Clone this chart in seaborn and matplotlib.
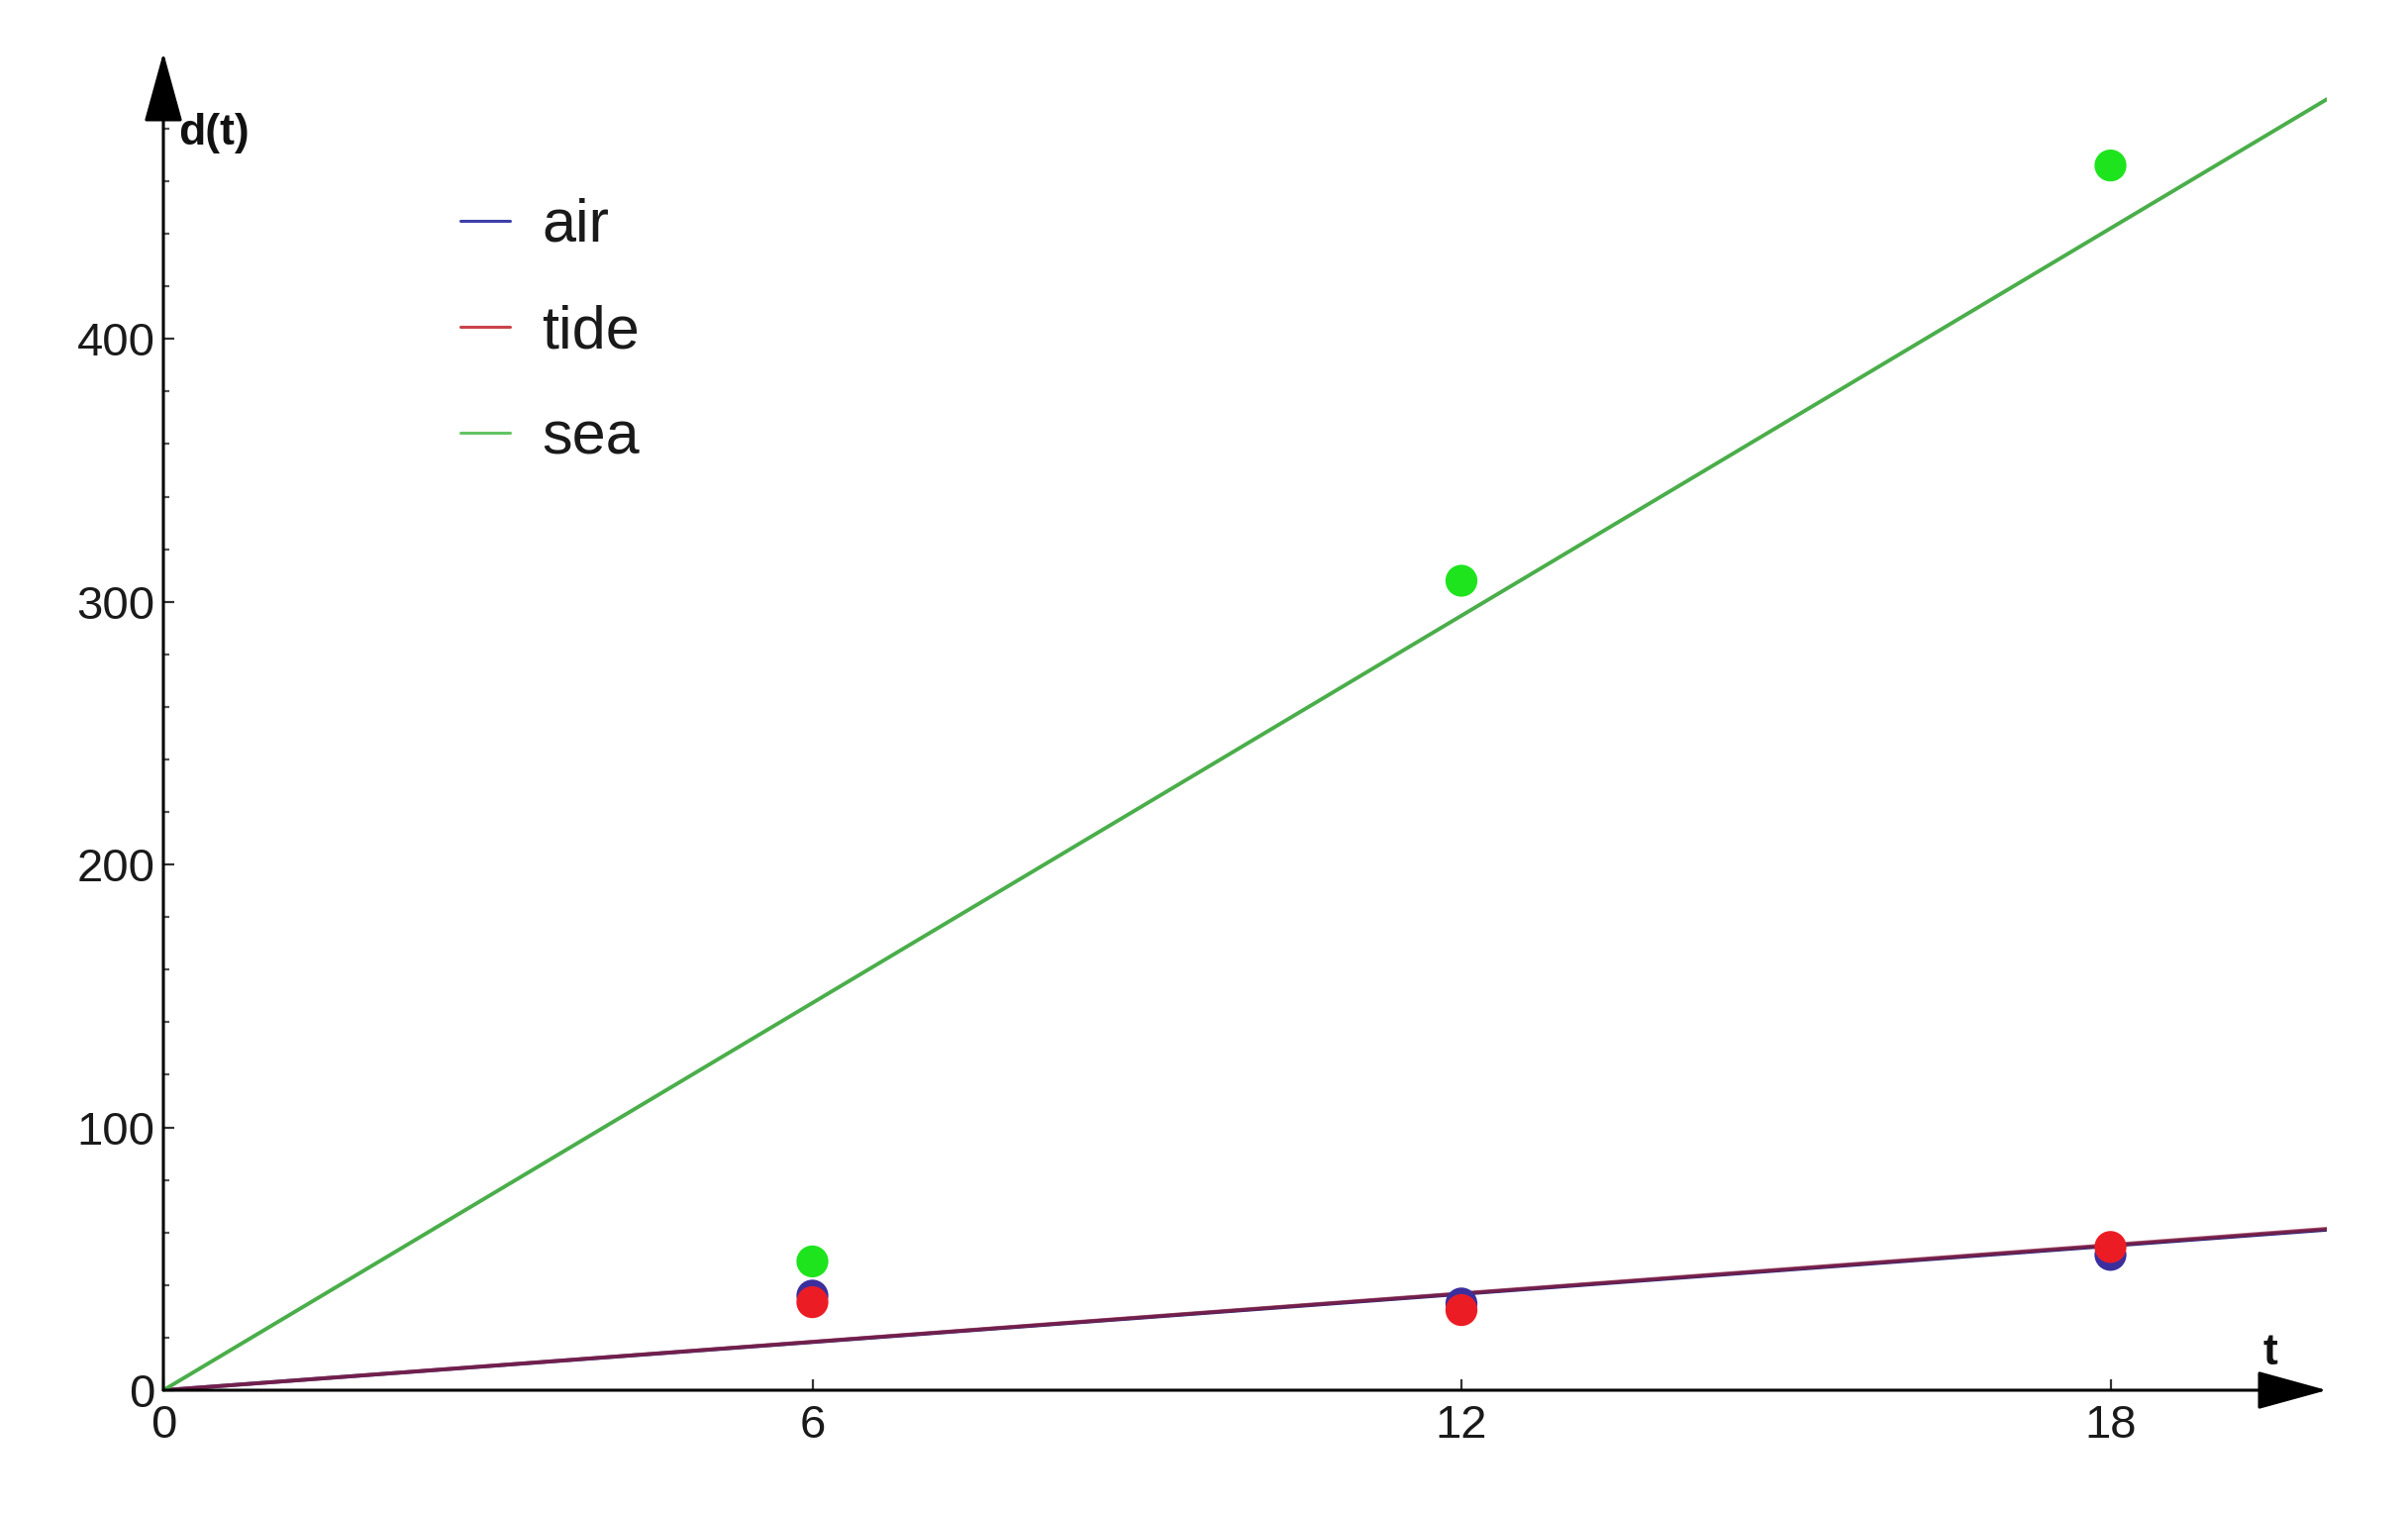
import numpy as np
import pandas as pd
import matplotlib
matplotlib.use('Agg')
import matplotlib.pyplot as plt
from matplotlib.lines import Line2D
from matplotlib.ticker import MultipleLocator
import seaborn as sns

t_obs = [6, 12, 18]
air = [36, 33, 51.5]
tide = [33.5, 30.5, 54.5]
sea = [49, 308, 466]

series_names = ['air', 'tide', 'sea']
point_colors = {'air': '#3b2f9e', 'tide': '#ec1c24', 'sea': '#1ee41e'}
line_colors = {'air': '#2c2a7c', 'tide': '#8a1c3c', 'sea': '#4aae4a'}
legend_colors = {'air': '#3d3fa8', 'tide': '#c9434b', 'sea': '#63c463'}

t_range = [0, 20]


def fit_origin(t, d):
    # least squares line through the origin
    t = np.asarray(t, float)
    d = np.asarray(d, float)
    return (t * d).sum() / (t * t).sum()


sns.set_style('white')
plt.rcParams['font.family'] = ['Liberation Sans', 'DejaVu Sans']

pts = pd.DataFrame({
    't': t_obs * 3,
    'd': air + tide + sea,
    'series': ['air'] * 3 + ['tide'] * 3 + ['sea'] * 3,
})

fit_rows = []
for name, vals in zip(series_names, [air, tide, sea]):
    k = fit_origin(t_obs, vals)
    for tt in t_range:
        fit_rows.append({'t': tt, 'd': k * tt, 'series': name})
fits = pd.DataFrame(fit_rows)

fig = plt.figure(figsize=(12.16, 7.64), dpi=200)
ax = fig.add_axes([165 / 2432, 124 / 1528, (2350 - 165) / 2432, (1404 - 53) / 1528])

sns.lineplot(data=fits[fits.series == 'air'], x='t', y='d', color=line_colors['air'],
             lw=1.4, ax=ax, legend=False)
sns.lineplot(data=fits[fits.series == 'tide'], x='t', y='d', color=line_colors['tide'],
             lw=1.4, alpha=0.75, ax=ax, legend=False)
sns.lineplot(data=fits[fits.series == 'sea'], x='t', y='d', color=line_colors['sea'],
             lw=1.4, ax=ax, legend=False)

sns.scatterplot(data=pts, x='t', y='d', hue='series', hue_order=series_names,
                palette=point_colors, s=135, linewidth=0, legend=False, ax=ax, zorder=4)

ax.set_xlim(0, 20)
ax.set_ylim(0, 509)
for sp in ax.spines.values():
    sp.set_visible(False)

# axes drawn as arrows
arrow = dict(arrowstyle='-|>,head_length=0.4,head_width=0.11', color='black',
             lw=1.1, shrinkA=0, shrinkB=0, mutation_scale=56)
ax.annotate('', xy=(20, 0), xytext=(0, 0), arrowprops=arrow, annotation_clip=False, zorder=5)
ax.annotate('', xy=(0, 509), xytext=(0, 0), arrowprops=arrow, annotation_clip=False, zorder=5)

ax.set_xticks([0, 6, 12, 18])
ax.set_yticks([0, 100, 200, 300, 400])
ax.yaxis.set_minor_locator(MultipleLocator(20))
ax.tick_params(which='both', direction='in', color='#333333', width=0.8,
               bottom=True, left=True, top=False, right=False)
ax.tick_params(which='major', length=3.8, labelsize=17, labelcolor='#1a1a1a')
ax.tick_params(which='minor', length=2.2, color='#555555')
ax.tick_params(axis='x', which='minor', bottom=False)
ax.tick_params(axis='y', pad=3)
ax.tick_params(axis='x', pad=5)
ax.set_xlabel('')
ax.set_ylabel('')

fig.text(180 / 2432, 1 - 146 / 1528, 'd(t)', fontsize=16, fontweight='bold',
         va='baseline', ha='left', color='#111111')
fig.text(2286 / 2432, 1 - 1378 / 1528, 't', fontsize=16, fontweight='bold',
         va='baseline', ha='left', color='#111111')

handles = [Line2D([], [], color=legend_colors[n], lw=1.1) for n in series_names]
ax.legend(handles, series_names, loc='upper left',
          bbox_to_anchor=(465 / 2432, 1 - 200 / 1528), bbox_transform=fig.transFigure,
          frameon=False, fontsize=22, handlelength=0.82, handletextpad=0.52,
          labelspacing=0.82, borderpad=0, borderaxespad=0, labelcolor='#1a1a1a')

fig.savefig('out.png', dpi=200, facecolor='white')
